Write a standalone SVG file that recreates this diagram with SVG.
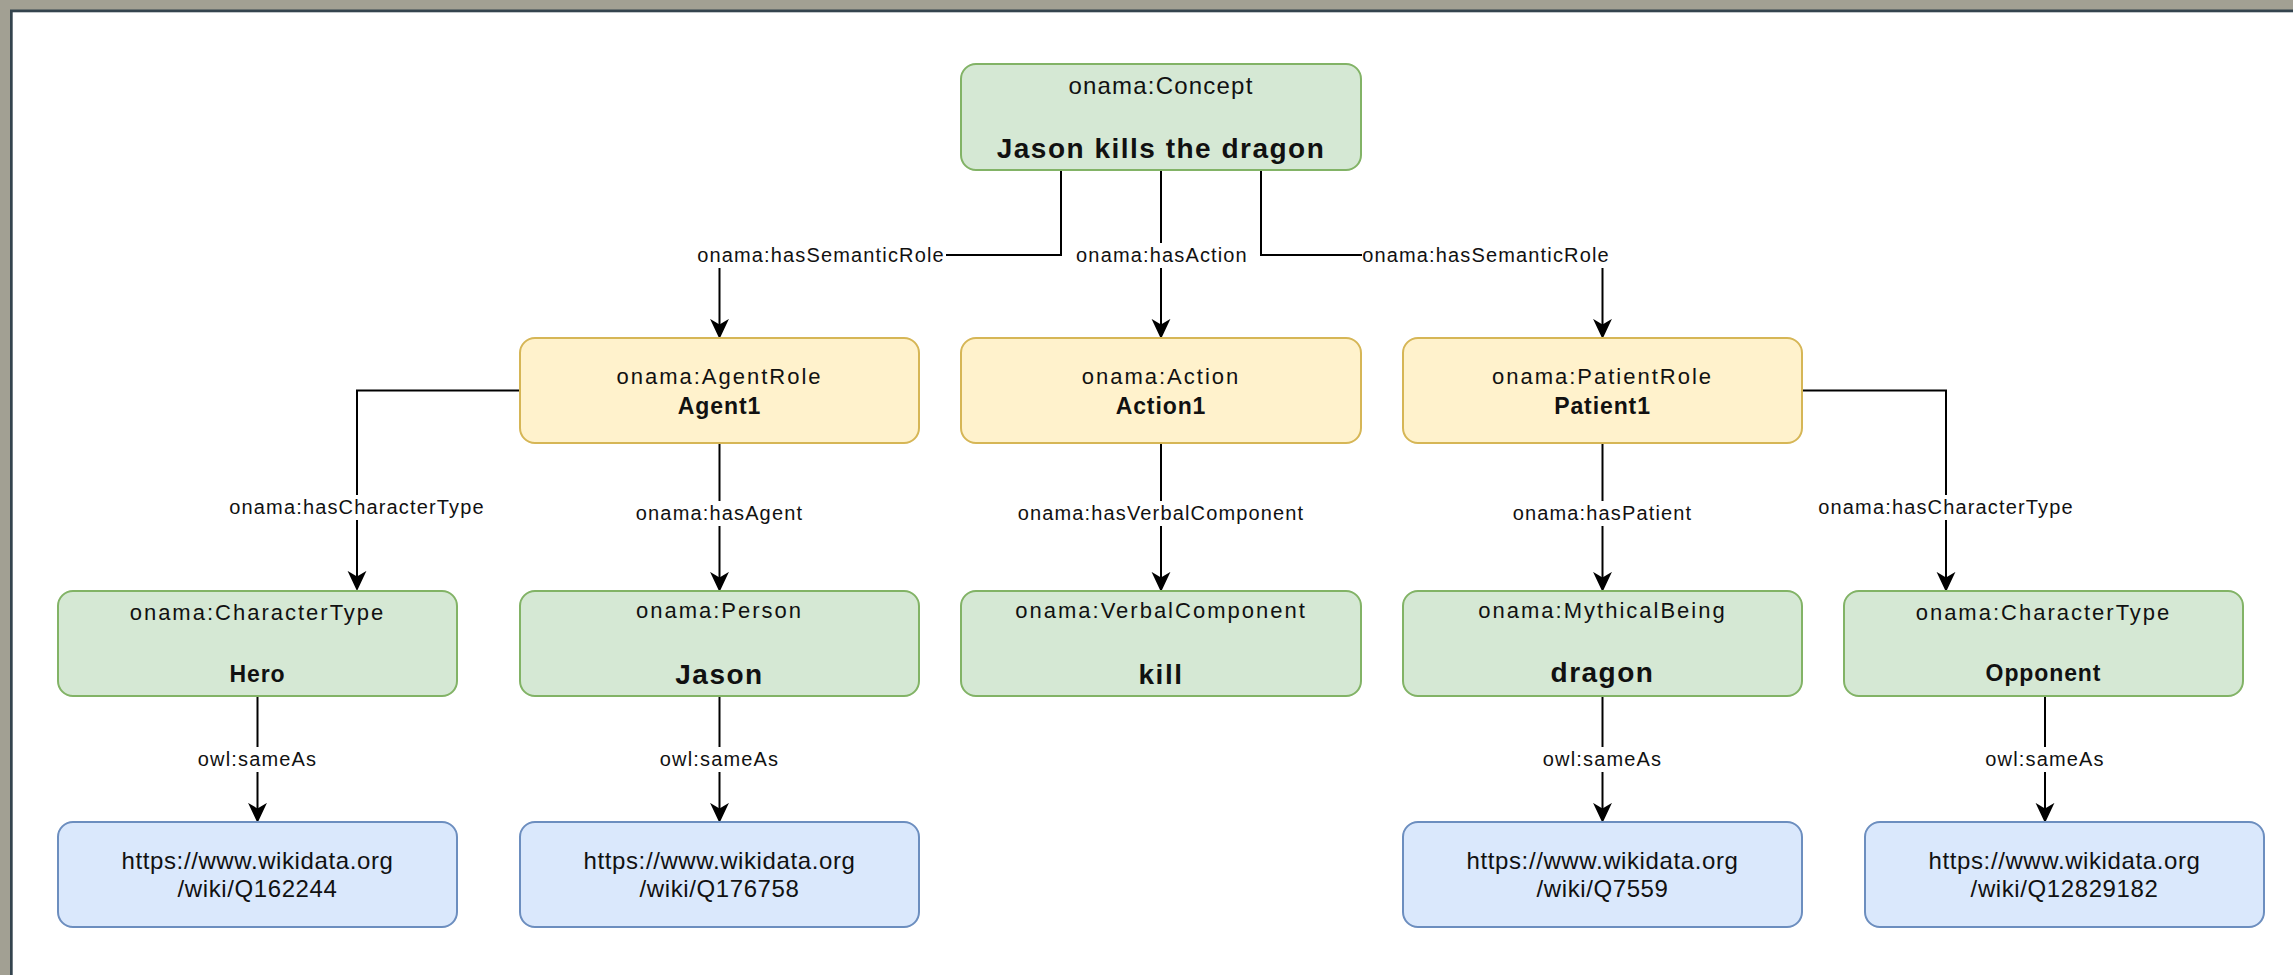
<svg xmlns="http://www.w3.org/2000/svg" width="2293" height="975" viewBox="0 0 2293 975">
<style>
.g{fill:#d5e8d4;stroke:#82b366;stroke-width:2}
.y{fill:#fff2cc;stroke:#d6b656;stroke-width:2}
.b{fill:#dae8fc;stroke:#6c8ebf;stroke-width:2}
text{font-family:"Liberation Sans",Arial,sans-serif;fill:#111;text-anchor:middle}
.t{font-size:22px;letter-spacing:2px}
.n{font-size:23px;font-weight:bold;letter-spacing:0.9px}
.N{font-size:28px;font-weight:bold;letter-spacing:1.5px}
.u{font-size:24px;letter-spacing:0.6px}
.e{font-size:20px;letter-spacing:1.15px}
.c{fill:none;stroke:#000;stroke-width:2}
.lb{fill:#fff}
</style>
<defs>
<marker id="arr" markerUnits="userSpaceOnUse" markerWidth="20" markerHeight="20" viewBox="0 0 18 18" refX="10" refY="9" orient="auto">
<path d="M0,0.5 L18,9 L0,17.5 L5,9 Z" fill="#000"/>
</marker>
</defs>
<rect x="0" y="0" width="2293" height="975" fill="#a2a093"/>
<rect x="10" y="9.5" width="2283" height="965.5" fill="#34444e"/>
<rect x="12.7" y="12.3" width="2280.3" height="962.7" fill="#fff"/>

<g id="connectors">
<path class="c" d="M1061,170 V255 H719.5 V330" marker-end="url(#arr)"/>
<path class="c" d="M1161,170 V330" marker-end="url(#arr)"/>
<path class="c" d="M1261,170 V255 H1602.5 V330" marker-end="url(#arr)"/>
<path class="c" d="M520,390.5 H357 V582" marker-end="url(#arr)"/>
<path class="c" d="M719.5,443 V583" marker-end="url(#arr)"/>
<path class="c" d="M1161,443 V583" marker-end="url(#arr)"/>
<path class="c" d="M1602.5,443 V583" marker-end="url(#arr)"/>
<path class="c" d="M1802,390.5 H1946 V583" marker-end="url(#arr)"/>
<path class="c" d="M257.5,696 V814" marker-end="url(#arr)"/>
<path class="c" d="M719.5,696 V814" marker-end="url(#arr)"/>
<path class="c" d="M1602.5,696 V814" marker-end="url(#arr)"/>
<path class="c" d="M2045,696 V814" marker-end="url(#arr)"/>
<rect class="lb" x="696" y="243" width="250" height="25"/>
<text class="e" x="821" y="262">onama:hasSemanticRole</text>
<rect class="lb" x="1073" y="243" width="178" height="25"/>
<text class="e" x="1162" y="262">onama:hasAction</text>
<rect class="lb" x="1362" y="243" width="248" height="25"/>
<text class="e" x="1486" y="262">onama:hasSemanticRole</text>
<rect class="lb" x="226" y="495" width="262" height="25"/>
<text class="e" x="357" y="514">onama:hasCharacterType</text>
<rect class="lb" x="632" y="501" width="175" height="25"/>
<text class="e" x="719.5" y="520">onama:hasAgent</text>
<rect class="lb" x="1016" y="501" width="290" height="25"/>
<text class="e" x="1161" y="520">onama:hasVerbalComponent</text>
<rect class="lb" x="1510" y="501" width="185" height="25"/>
<text class="e" x="1602.5" y="520">onama:hasPatient</text>
<rect class="lb" x="1815" y="495" width="262" height="25"/>
<text class="e" x="1946" y="514">onama:hasCharacterType</text>
<rect class="lb" x="195" y="747" width="125" height="25"/>
<text class="e" x="257.5" y="766">owl:sameAs</text>
<rect class="lb" x="657" y="747" width="125" height="25"/>
<text class="e" x="719.5" y="766">owl:sameAs</text>
<rect class="lb" x="1540" y="747" width="125" height="25"/>
<text class="e" x="1602.5" y="766">owl:sameAs</text>
<rect class="lb" x="1982" y="747" width="125" height="25"/>
<text class="e" x="2045" y="766">owl:sameAs</text>
</g>

<g id="concept">
<rect class="g" x="961" y="64" width="400" height="106" rx="15"/>
<text x="1161" y="94" style="font-size:24px;letter-spacing:1.2px">onama:Concept</text>
<text class="N" x="1161" y="158">Jason kills the dragon</text>
</g>
<g id="agentrole">
<rect class="y" x="520" y="338" width="399" height="105" rx="15"/>
<text class="t" x="719.5" y="384">onama:AgentRole</text>
<text class="n" x="719.5" y="414">Agent1</text>
</g>
<g id="action">
<rect class="y" x="961" y="338" width="400" height="105" rx="15"/>
<text class="t" x="1161" y="384">onama:Action</text>
<text class="n" x="1161" y="414">Action1</text>
</g>
<g id="patientrole">
<rect class="y" x="1403" y="338" width="399" height="105" rx="15"/>
<text class="t" x="1602.5" y="384">onama:PatientRole</text>
<text class="n" x="1602.5" y="414">Patient1</text>
</g>
<g id="hero">
<rect class="g" x="58" y="591" width="399" height="105" rx="15"/>
<text class="t" x="257.5" y="620">onama:CharacterType</text>
<text class="n" x="257.5" y="682">Hero</text>
</g>
<g id="person">
<rect class="g" x="520" y="591" width="399" height="105" rx="15"/>
<text class="t" x="719.5" y="618">onama:Person</text>
<text class="N" x="719.5" y="684">Jason</text>
</g>
<g id="verbal">
<rect class="g" x="961" y="591" width="400" height="105" rx="15"/>
<text class="t" x="1161" y="618">onama:VerbalComponent</text>
<text class="N" x="1161" y="684">kill</text>
</g>
<g id="mythical">
<rect class="g" x="1403" y="591" width="399" height="105" rx="15"/>
<text class="t" x="1602.5" y="618">onama:MythicalBeing</text>
<text class="N" x="1602.5" y="682">dragon</text>
</g>
<g id="opponent">
<rect class="g" x="1844" y="591" width="399" height="105" rx="15"/>
<text class="t" x="2043.5" y="620">onama:CharacterType</text>
<text class="n" x="2043.5" y="681">Opponent</text>
</g>
<g id="wiki1">
<rect class="b" x="58" y="822" width="399" height="105" rx="15"/>
<text class="u" x="257.5" y="869">https://www.wikidata.org</text>
<text class="u" x="257.5" y="897">/wiki/Q162244</text>
</g>
<g id="wiki2">
<rect class="b" x="520" y="822" width="399" height="105" rx="15"/>
<text class="u" x="719.5" y="869">https://www.wikidata.org</text>
<text class="u" x="719.5" y="897">/wiki/Q176758</text>
</g>
<g id="wiki3">
<rect class="b" x="1403" y="822" width="399" height="105" rx="15"/>
<text class="u" x="1602.5" y="869">https://www.wikidata.org</text>
<text class="u" x="1602.5" y="897">/wiki/Q7559</text>
</g>
<g id="wiki4">
<rect class="b" x="1865" y="822" width="399" height="105" rx="15"/>
<text class="u" x="2064.5" y="869">https://www.wikidata.org</text>
<text class="u" x="2064.5" y="897">/wiki/Q12829182</text>
</g>
</svg>
